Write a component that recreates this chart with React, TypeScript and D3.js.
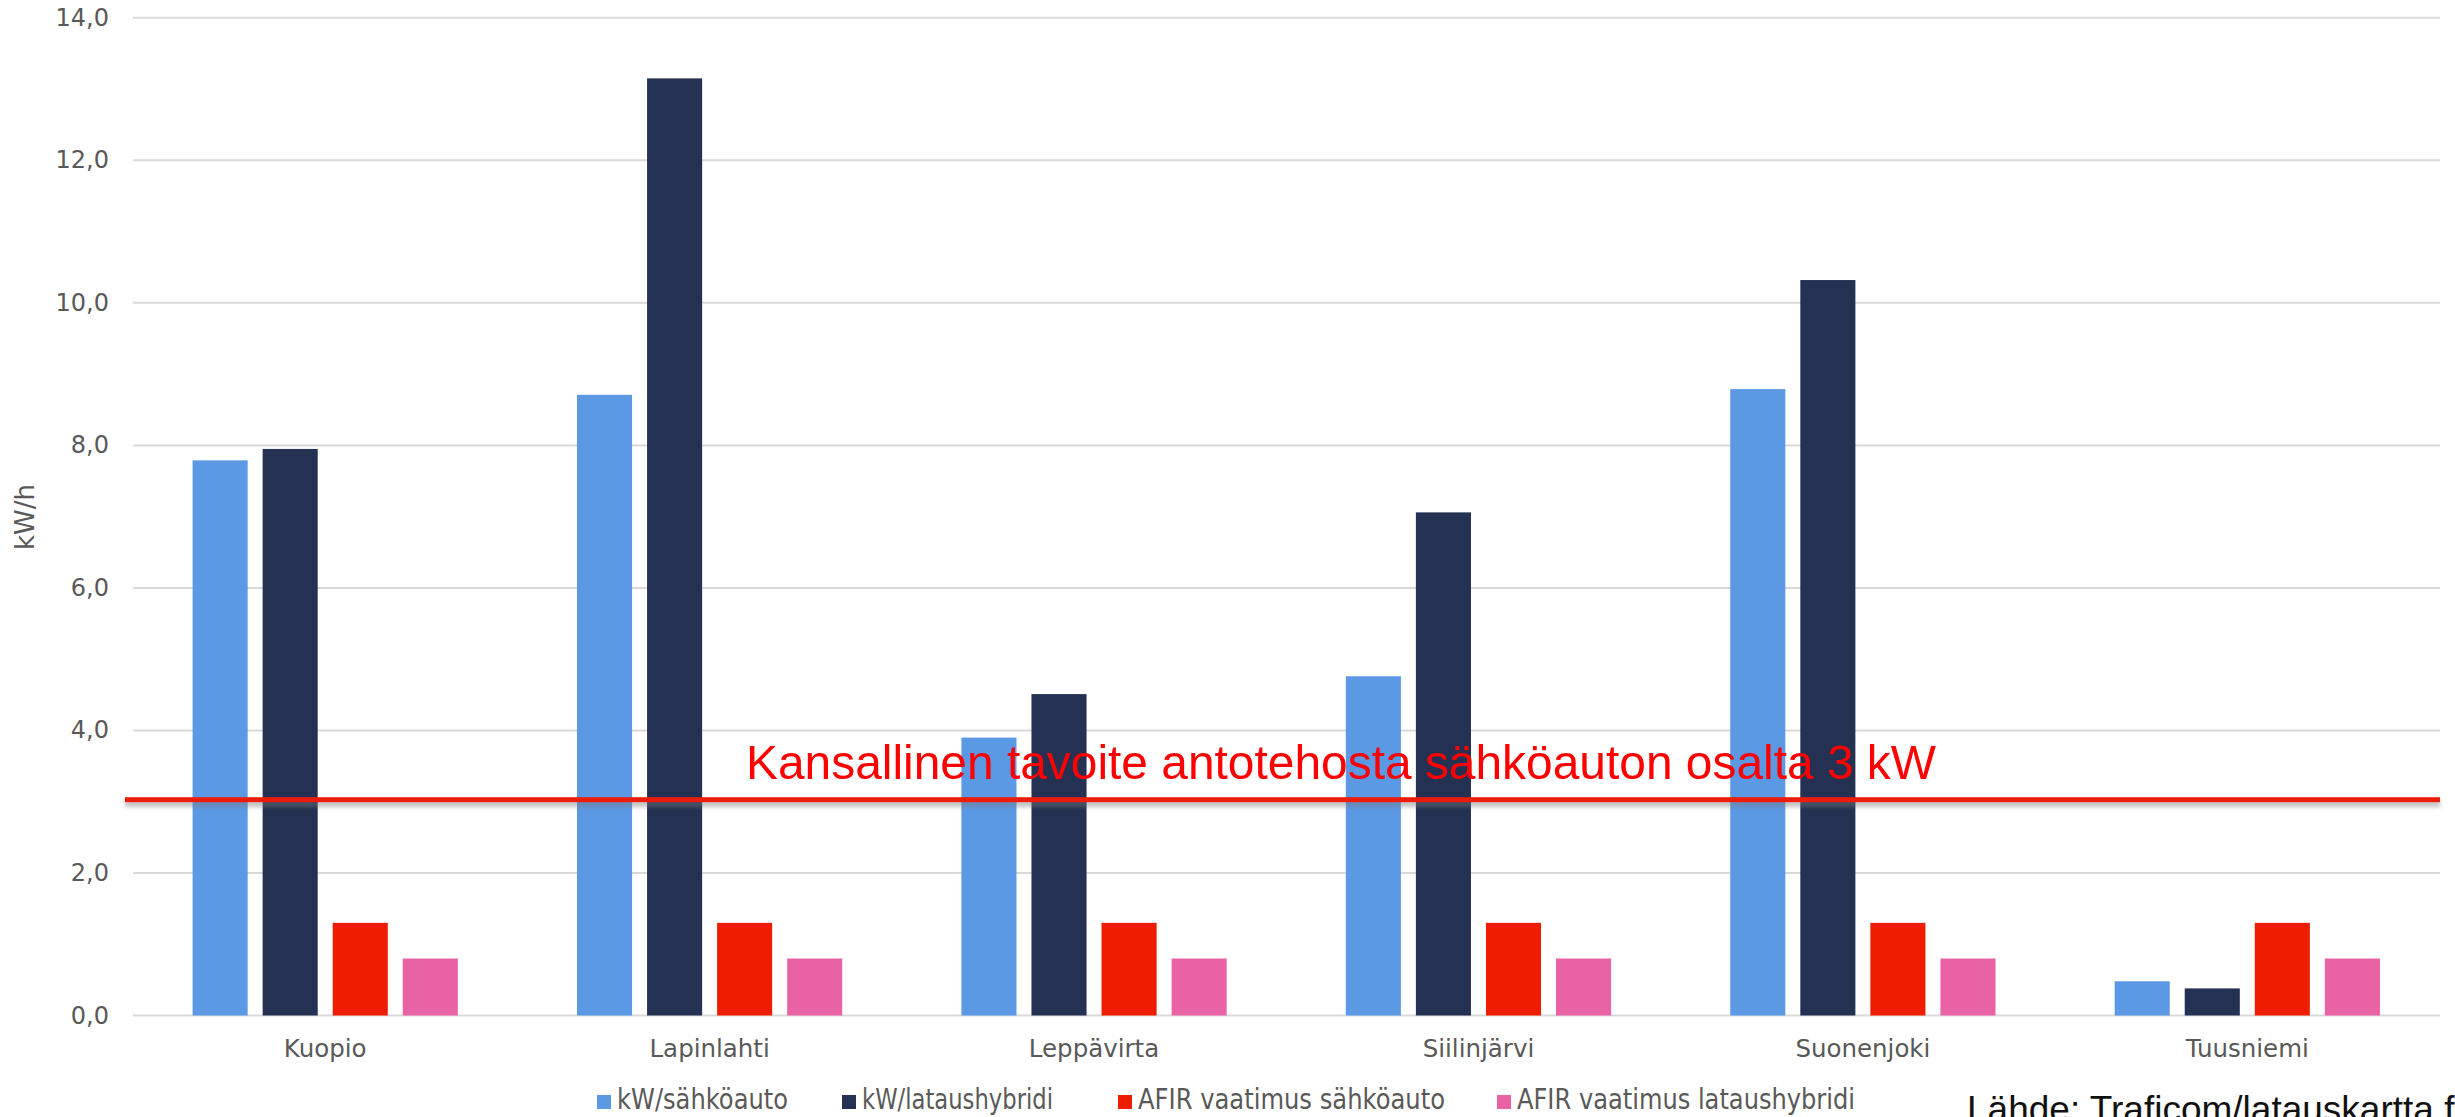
import React from "react";
import * as d3 from "d3";

const categories = ["Kuopio", "Lapinlahti", "Leppävirta", "Siilinjärvi", "Suonenjoki", "Tuusniemi"];
const seriesNames = ["kW/sähköauto", "kW/lataushybridi", "AFIR vaatimus sähköauto", "AFIR vaatimus lataushybridi"];
const kwSahkoauto = [7.79, 8.71, 3.9, 4.76, 8.79, 0.48];
const kwLataushybridi = [7.95, 13.15, 4.51, 7.06, 10.32, 0.38];
const afirSahkoauto = [1.3, 1.3, 1.3, 1.3, 1.3, 1.3];
const afirLataushybridi = [0.8, 0.8, 0.8, 0.8, 0.8, 0.8];
const seriesColors = ["#5B99E5", "#243153", "#EE1D00", "#E962A6"];
const yTicks = [0, 2, 4, 6, 8, 10, 12, 14];
const targetValue = 3;
const targetLabel = "Kansallinen tavoite antotehosta sähköauton osalta 3 kW";
const yAxisTitle = "kW/h";
const sourceText = "Lähde: Traficom/latauskartta f";

const W = 2455;
const H = 1117;
const plotLeft = 133;
const plotRight = 2440;
const plotTop = 17.8;
const plotBottom = 1015.5;

// legend layout (x of square, text width)
const legendLayout = [
  { x: 597, tw: 171 },
  { x: 842, tw: 191 },
  { x: 1118, tw: 307 },
  { x: 1497, tw: 338 },
];

export default function App() {
  const seriesValues = [kwSahkoauto, kwLataushybridi, afirSahkoauto, afirLataushybridi];
  const x0 = d3
    .scaleBand<string>()
    .domain(categories)
    .range([plotLeft, plotRight - 0.5])
    .paddingInner(0.31)
    .paddingOuter(0.155);
  const x1 = d3
    .scaleBand<string>()
    .domain(seriesNames)
    .range([0, x0.bandwidth()])
    .paddingInner(0.214)
    .paddingOuter(0);
  const y = d3.scaleLinear().domain([0, 14]).range([plotBottom, plotTop]);
  const fmt = (v: number) => d3.format(".1f")(v).replace(".", ",");

  const tickFont = "'DejaVu Sans', Verdana, sans-serif";
  const lineY = y(targetValue) - 2;

  return (
    <svg
      width={W}
      height={H}
      style={{ position: "absolute", left: 0, top: 0, display: "block", background: "#fff" }}
    >
      <defs>
        <filter id="lineShadow" filterUnits="userSpaceOnUse" x={0} y={lineY - 20} width={W} height={50}>
          <feGaussianBlur stdDeviation="2" />
        </filter>
      </defs>
      <rect x={0} y={0} width={W} height={H} fill="#fff" />
      {/* gridlines */}
      {yTicks.map((t) => (
        <line
          key={"g" + t}
          x1={plotLeft}
          x2={plotRight}
          y1={y(t)}
          y2={y(t)}
          stroke="#D9D9D9"
          strokeWidth={2}
        />
      ))}
      {/* y tick labels */}
      {yTicks.map((t) => (
        <text
          key={"t" + t}
          x={109}
          y={y(t)}
          textAnchor="end"
          dominantBaseline="central"
          fontFamily={tickFont}
          fontSize={24}
          fill="#595959"
        >
          {fmt(t)}
        </text>
      ))}
      {/* y axis title */}
      <text
        transform={`translate(34, 517) rotate(-90)`}
        textAnchor="middle"
        fontFamily={tickFont}
        fontSize={26}
        fill="#595959"
      >
        {yAxisTitle}
      </text>
      {/* bars */}
      {categories.map((c, ci) => (
        <g key={c} transform={`translate(${x0(c)},0)`}>
          {seriesNames.map((s, si) => {
            const v = seriesValues[si][ci];
            return (
              <rect
                key={s}
                x={x1(s)}
                y={y(v)}
                width={x1.bandwidth()}
                height={y(0) - y(v)}
                fill={seriesColors[si]}
              />
            );
          })}
        </g>
      ))}
      {/* category labels */}
      {categories.map((c) => (
        <text
          key={"c" + c}
          x={(x0(c) as number) + x0.bandwidth() / 2}
          y={1057}
          textAnchor="middle"
          fontFamily={tickFont}
          fontSize={24.5}
          fill="#595959"
        >
          {c}
        </text>
      ))}
      {/* target line */}
      <rect
        x={125}
        y={lineY + 1}
        width={plotRight - 125}
        height={6}
        fill="#7a7a7a"
        opacity={0.5}
        filter="url(#lineShadow)"
      />
      <rect x={125} y={lineY - 2.5} width={plotRight - 125} height={5} fill="#EC1C08" />
      <text
        x={746}
        y={779}
        fontFamily="'Liberation Sans', Arial, sans-serif"
        fontSize={48.5}
        fill="#FF0000"
        textLength={1190}
        lengthAdjust="spacingAndGlyphs"
      >
        {targetLabel}
      </text>
      {/* legend */}
      {seriesNames.map((s, i) => (
        <g key={"l" + s}>
          <rect x={legendLayout[i].x} y={1095} width={14} height={14} fill={seriesColors[i]} />
          <text
            x={legendLayout[i].x + 20}
            y={1109}
            fontFamily={tickFont}
            fontSize={29}
            fill="#595959"
            textLength={legendLayout[i].tw}
            lengthAdjust="spacingAndGlyphs"
          >
            {s}
          </text>
        </g>
      ))}
      {/* source */}
      <text
        x={1967}
        y={1122}
        fontFamily="'Liberation Sans', Arial, sans-serif"
        fontSize={37}
        fill="#111"
      >
        {sourceText}
      </text>
    </svg>
  );
}
